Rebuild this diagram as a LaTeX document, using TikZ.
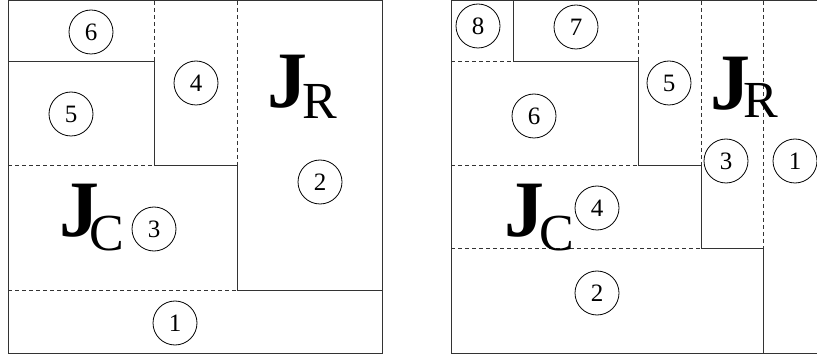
\documentclass[tikz,border=0pt]{standalone}
\usepackage{fontspec}
\setmainfont{Liberation Serif}
\begin{document}
\begin{tikzpicture}[x=1pt,y=-1pt,
  frame/.style={draw=black!80,line width=1pt},
  sep/.style={draw=black!80,line width=1pt,dash pattern=on 4pt off 3pt},
  num/.style={circle,draw=black,line width=0.8pt,minimum size=44pt,inner sep=0pt,font=\fontsize{25}{26}\selectfont},
  bigJ/.style={anchor=base west,inner sep=0pt,font=\fontsize{80}{84}\selectfont\bfseries},
  subl/.style={anchor=base west,inner sep=0pt,font=\fontsize{52}{54}\selectfont}]
\useasboundingbox (0,0) rectangle (817,358);
% ---------- left panel ----------
\draw[frame] (8,1) rectangle (382,353);
\draw[frame] (8,62) -- (154,62) -- (154,166) -- (237,166) -- (237,291) -- (382,291);
\draw[sep] (154,1) -- (154,62);
\draw[sep] (237,1) -- (237,166);
\draw[sep] (8,166) -- (154,166);
\draw[sep] (8,291) -- (237,291);
\node[num] (a6) at (91,32) {6};
\node[num] (a4) at (196,83) {4};
\node[num] (a5) at (71,114) {5};
\node[num] (a2) at (320,182) {2};
\node[num] (a3) at (154,229) {3};
\node[num] (a1) at (175,323) {1};
\node[bigJ] (ajr) at (267,108) {J};
\node[subl] (ar) at (302,119) {R};
\node[bigJ] (ajc) at (59,237) {J};
\node[subl] (ac) at (89,251) {C};
% ---------- right panel ----------
\draw[frame] (817,1) -- (451,1) -- (451,353) -- (817,353);
\draw[frame] (513,1) -- (513,62) -- (638,62) -- (638,166) -- (701,166) -- (701,249) -- (763,249) -- (763,353);
\draw[sep] (451,62) -- (513,62);
\draw[sep] (638,1) -- (638,62);
\draw[sep] (451,166) -- (638,166);
\draw[sep] (701,1) -- (701,166);
\draw[sep] (451,249) -- (701,249);
\draw[sep] (763,1) -- (763,249);
\node[num] (b8) at (478,26) {8};
\node[num] (b7) at (576,27) {7};
\node[num] (b6) at (534,116) {6};
\node[num] (b5) at (669,83) {5};
\node[num] (b3) at (726,161) {3};
\node[num] (b1) at (795,161) {1};
\node[num] (b4) at (597,208) {4};
\node[num] (b2) at (597,293) {2};
\node[bigJ] (bjr) at (710,110) {J};
\node[subl] (br) at (743,118) {R};
\node[bigJ] (bjc) at (504,237) {J};
\node[subl] (bc) at (539,251) {C};
\end{tikzpicture}
\end{document}
